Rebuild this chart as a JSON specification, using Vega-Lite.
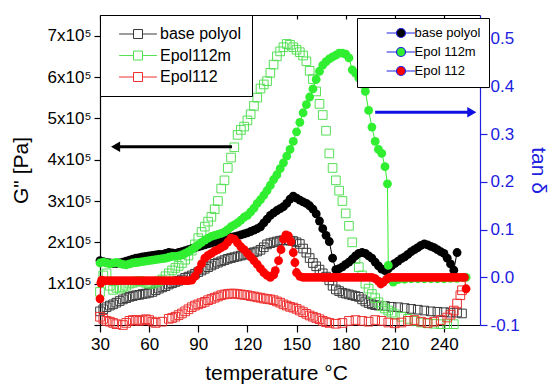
{
  "$schema": "https://vega.github.io/schema/vega-lite/v6.json",
  "width": 380,
  "height": 310,
  "autosize": "none",
  "padding": {"left": 100, "top": 15, "right": 70, "bottom": 65},
  "background": "white",
  "config": {
    "font": "Liberation Sans",
    "view": {"stroke": null},
    "axis": {"grid": false, "labelFont": "Liberation Sans, DejaVu Sans", "titleFont": "Liberation Sans", "labelFontSize": 17, "titleFontSize": 21, "titleFontWeight": "normal", "labelColor": "black", "titleColor": "black", "domainColor": "black", "tickColor": "black", "domainWidth": 1.2, "tickWidth": 1.2, "labelFlush": false},
    "legend": {"labelFont": "Liberation Sans"}
  },
  "datasets": {
    "gpp": [
      {"T":30,"G":33000,"s":"base polyol"},{"T":32,"G":38000,"s":"base polyol"},{"T":34,"G":43000,"s":"base polyol"},{"T":36,"G":47000,"s":"base polyol"},{"T":38,"G":50000,"s":"base polyol"},{"T":40,"G":54000,"s":"base polyol"},{"T":42,"G":58000,"s":"base polyol"},{"T":44,"G":62000,"s":"base polyol"},{"T":46,"G":65000,"s":"base polyol"},{"T":48,"G":68000,"s":"base polyol"},{"T":50,"G":70000,"s":"base polyol"},{"T":52,"G":72000,"s":"base polyol"},{"T":54,"G":73000,"s":"base polyol"},{"T":56,"G":75000,"s":"base polyol"},{"T":58,"G":76000,"s":"base polyol"},{"T":60,"G":78000,"s":"base polyol"},{"T":62,"G":80000,"s":"base polyol"},{"T":64,"G":84000,"s":"base polyol"},{"T":66,"G":88000,"s":"base polyol"},{"T":68,"G":91000,"s":"base polyol"},{"T":70,"G":94000,"s":"base polyol"},{"T":72,"G":98000,"s":"base polyol"},{"T":74,"G":101000,"s":"base polyol"},{"T":76,"G":104000,"s":"base polyol"},{"T":78,"G":107000,"s":"base polyol"},{"T":80,"G":110000,"s":"base polyol"},{"T":82,"G":114000,"s":"base polyol"},{"T":84,"G":117000,"s":"base polyol"},{"T":86,"G":120000,"s":"base polyol"},{"T":88,"G":124000,"s":"base polyol"},{"T":90,"G":128000,"s":"base polyol"},{"T":92,"G":132000,"s":"base polyol"},{"T":94,"G":136000,"s":"base polyol"},{"T":96,"G":140000,"s":"base polyol"},{"T":98,"G":144000,"s":"base polyol"},{"T":100,"G":148000,"s":"base polyol"},{"T":102,"G":151000,"s":"base polyol"},{"T":104,"G":154000,"s":"base polyol"},{"T":106,"G":157000,"s":"base polyol"},{"T":108,"G":160000,"s":"base polyol"},{"T":110,"G":162000,"s":"base polyol"},{"T":112,"G":164000,"s":"base polyol"},{"T":114,"G":166000,"s":"base polyol"},{"T":116,"G":168000,"s":"base polyol"},{"T":118,"G":170000,"s":"base polyol"},{"T":120,"G":172000,"s":"base polyol"},{"T":122,"G":174000,"s":"base polyol"},{"T":124,"G":176000,"s":"base polyol"},{"T":126,"G":178000,"s":"base polyol"},{"T":128,"G":182000,"s":"base polyol"},{"T":130,"G":188000,"s":"base polyol"},{"T":132,"G":195000,"s":"base polyol"},{"T":134,"G":198000,"s":"base polyol"},{"T":136,"G":200000,"s":"base polyol"},{"T":138,"G":202000,"s":"base polyol"},{"T":140,"G":204000,"s":"base polyol"},{"T":142,"G":205000,"s":"base polyol"},{"T":144,"G":205000,"s":"base polyol"},{"T":146,"G":204000,"s":"base polyol"},{"T":148,"G":203000,"s":"base polyol"},{"T":150,"G":200000,"s":"base polyol"},{"T":152,"G":196000,"s":"base polyol"},{"T":154,"G":185000,"s":"base polyol"},{"T":156,"G":175000,"s":"base polyol"},{"T":158,"G":162000,"s":"base polyol"},{"T":160,"G":150000,"s":"base polyol"},{"T":162,"G":142000,"s":"base polyol"},{"T":164,"G":134000,"s":"base polyol"},{"T":166,"G":125000,"s":"base polyol"},{"T":168,"G":117000,"s":"base polyol"},{"T":170,"G":108000,"s":"base polyol"},{"T":172,"G":95000,"s":"base polyol"},{"T":174,"G":86000,"s":"base polyol"},{"T":176,"G":82000,"s":"base polyol"},{"T":178,"G":78000,"s":"base polyol"},{"T":180,"G":76000,"s":"base polyol"},{"T":182,"G":74000,"s":"base polyol"},{"T":184,"G":72000,"s":"base polyol"},{"T":186,"G":70000,"s":"base polyol"},{"T":188,"G":68000,"s":"base polyol"},{"T":190,"G":62000,"s":"base polyol"},{"T":192,"G":57000,"s":"base polyol"},{"T":194,"G":53000,"s":"base polyol"},{"T":196,"G":50000,"s":"base polyol"},{"T":198,"G":48000,"s":"base polyol"},{"T":200,"G":47000,"s":"base polyol"},{"T":204,"G":46000,"s":"base polyol"},{"T":208,"G":44000,"s":"base polyol"},{"T":212,"G":43000,"s":"base polyol"},{"T":216,"G":41000,"s":"base polyol"},{"T":220,"G":39000,"s":"base polyol"},{"T":224,"G":37000,"s":"base polyol"},{"T":228,"G":35000,"s":"base polyol"},{"T":232,"G":33000,"s":"base polyol"},{"T":236,"G":32000,"s":"base polyol"},{"T":240,"G":31000,"s":"base polyol"},{"T":244,"G":30000,"s":"base polyol"},{"T":248,"G":30000,"s":"base polyol"},{"T":251,"G":28000,"s":"base polyol"},
      {"T":30,"G":80000,"s":"Epol112m"},{"T":32,"G":120000,"s":"Epol112m"},{"T":34,"G":125000,"s":"Epol112m"},{"T":36,"G":95000,"s":"Epol112m"},{"T":38,"G":85000,"s":"Epol112m"},{"T":40,"G":90000,"s":"Epol112m"},{"T":42,"G":88000,"s":"Epol112m"},{"T":44,"G":92000,"s":"Epol112m"},{"T":46,"G":95000,"s":"Epol112m"},{"T":48,"G":100000,"s":"Epol112m"},{"T":50,"G":102000,"s":"Epol112m"},{"T":52,"G":105000,"s":"Epol112m"},{"T":54,"G":106000,"s":"Epol112m"},{"T":56,"G":105000,"s":"Epol112m"},{"T":58,"G":102000,"s":"Epol112m"},{"T":60,"G":100000,"s":"Epol112m"},{"T":62,"G":100000,"s":"Epol112m"},{"T":64,"G":103000,"s":"Epol112m"},{"T":66,"G":106000,"s":"Epol112m"},{"T":68,"G":110000,"s":"Epol112m"},{"T":70,"G":118000,"s":"Epol112m"},{"T":72,"G":125000,"s":"Epol112m"},{"T":74,"G":132000,"s":"Epol112m"},{"T":76,"G":138000,"s":"Epol112m"},{"T":78,"G":143000,"s":"Epol112m"},{"T":80,"G":150000,"s":"Epol112m"},{"T":82,"G":158000,"s":"Epol112m"},{"T":84,"G":168000,"s":"Epol112m"},{"T":86,"G":180000,"s":"Epol112m"},{"T":88,"G":195000,"s":"Epol112m"},{"T":90,"G":210000,"s":"Epol112m"},{"T":92,"G":225000,"s":"Epol112m"},{"T":94,"G":238000,"s":"Epol112m"},{"T":96,"G":250000,"s":"Epol112m"},{"T":98,"G":262000,"s":"Epol112m"},{"T":100,"G":280000,"s":"Epol112m"},{"T":102,"G":300000,"s":"Epol112m"},{"T":104,"G":330000,"s":"Epol112m"},{"T":106,"G":350000,"s":"Epol112m"},{"T":108,"G":380000,"s":"Epol112m"},{"T":110,"G":405000,"s":"Epol112m"},{"T":112,"G":430000,"s":"Epol112m"},{"T":114,"G":460000,"s":"Epol112m"},{"T":116,"G":472000,"s":"Epol112m"},{"T":118,"G":480000,"s":"Epol112m"},{"T":120,"G":495000,"s":"Epol112m"},{"T":122,"G":510000,"s":"Epol112m"},{"T":124,"G":530000,"s":"Epol112m"},{"T":126,"G":550000,"s":"Epol112m"},{"T":128,"G":572000,"s":"Epol112m"},{"T":130,"G":582000,"s":"Epol112m"},{"T":132,"G":590000,"s":"Epol112m"},{"T":134,"G":610000,"s":"Epol112m"},{"T":136,"G":630000,"s":"Epol112m"},{"T":138,"G":650000,"s":"Epol112m"},{"T":140,"G":662000,"s":"Epol112m"},{"T":142,"G":672000,"s":"Epol112m"},{"T":144,"G":680000,"s":"Epol112m"},{"T":146,"G":678000,"s":"Epol112m"},{"T":148,"G":672000,"s":"Epol112m"},{"T":150,"G":666000,"s":"Epol112m"},{"T":152,"G":660000,"s":"Epol112m"},{"T":154,"G":652000,"s":"Epol112m"},{"T":156,"G":638000,"s":"Epol112m"},{"T":158,"G":615000,"s":"Epol112m"},{"T":160,"G":595000,"s":"Epol112m"},{"T":162,"G":565000,"s":"Epol112m"},{"T":164,"G":535000,"s":"Epol112m"},{"T":166,"G":508000,"s":"Epol112m"},{"T":168,"G":470000,"s":"Epol112m"},{"T":170,"G":415000,"s":"Epol112m"},{"T":172,"G":380000,"s":"Epol112m"},{"T":174,"G":350000,"s":"Epol112m"},{"T":176,"G":325000,"s":"Epol112m"},{"T":178,"G":300000,"s":"Epol112m"},{"T":180,"G":270000,"s":"Epol112m"},{"T":182,"G":240000,"s":"Epol112m"},{"T":184,"G":200000,"s":"Epol112m"},{"T":186,"G":160000,"s":"Epol112m"},{"T":188,"G":140000,"s":"Epol112m"},{"T":190,"G":120000,"s":"Epol112m"},{"T":192,"G":100000,"s":"Epol112m"},{"T":194,"G":88000,"s":"Epol112m"},{"T":196,"G":75000,"s":"Epol112m"},{"T":198,"G":65000,"s":"Epol112m"},{"T":200,"G":55000,"s":"Epol112m"},{"T":202,"G":46000,"s":"Epol112m"},{"T":204,"G":40000,"s":"Epol112m"},{"T":206,"G":35000,"s":"Epol112m"},{"T":208,"G":30000,"s":"Epol112m"},{"T":210,"G":26000,"s":"Epol112m"},{"T":214,"G":20000,"s":"Epol112m"},{"T":218,"G":15000,"s":"Epol112m"},{"T":222,"G":10000,"s":"Epol112m"},{"T":226,"G":6000,"s":"Epol112m"},{"T":230,"G":4000,"s":"Epol112m"},{"T":234,"G":3000,"s":"Epol112m"},{"T":238,"G":2000,"s":"Epol112m"},{"T":242,"G":2000,"s":"Epol112m"},{"T":246,"G":2000,"s":"Epol112m"},
      {"T":30,"G":20000,"s":"Epol112"},{"T":32,"G":15000,"s":"Epol112"},{"T":34,"G":10000,"s":"Epol112"},{"T":36,"G":8000,"s":"Epol112"},{"T":38,"G":5000,"s":"Epol112"},{"T":40,"G":2000,"s":"Epol112"},{"T":44,"G":0,"s":"Epol112"},{"T":46,"G":5000,"s":"Epol112"},{"T":48,"G":10000,"s":"Epol112"},{"T":50,"G":12000,"s":"Epol112"},{"T":52,"G":12000,"s":"Epol112"},{"T":54,"G":10000,"s":"Epol112"},{"T":56,"G":12000,"s":"Epol112"},{"T":58,"G":14000,"s":"Epol112"},{"T":60,"G":12000,"s":"Epol112"},{"T":62,"G":8000,"s":"Epol112"},{"T":64,"G":5000,"s":"Epol112"},{"T":68,"G":8000,"s":"Epol112"},{"T":72,"G":15000,"s":"Epol112"},{"T":74,"G":17000,"s":"Epol112"},{"T":76,"G":20000,"s":"Epol112"},{"T":78,"G":24000,"s":"Epol112"},{"T":80,"G":28000,"s":"Epol112"},{"T":82,"G":33000,"s":"Epol112"},{"T":84,"G":38000,"s":"Epol112"},{"T":86,"G":43000,"s":"Epol112"},{"T":88,"G":47000,"s":"Epol112"},{"T":90,"G":50000,"s":"Epol112"},{"T":92,"G":53000,"s":"Epol112"},{"T":94,"G":56000,"s":"Epol112"},{"T":96,"G":60000,"s":"Epol112"},{"T":98,"G":63000,"s":"Epol112"},{"T":100,"G":66000,"s":"Epol112"},{"T":102,"G":69000,"s":"Epol112"},{"T":104,"G":72000,"s":"Epol112"},{"T":106,"G":74000,"s":"Epol112"},{"T":108,"G":75000,"s":"Epol112"},{"T":110,"G":76000,"s":"Epol112"},{"T":112,"G":76000,"s":"Epol112"},{"T":114,"G":75000,"s":"Epol112"},{"T":116,"G":74000,"s":"Epol112"},{"T":118,"G":73000,"s":"Epol112"},{"T":120,"G":72000,"s":"Epol112"},{"T":122,"G":70000,"s":"Epol112"},{"T":124,"G":69000,"s":"Epol112"},{"T":126,"G":67000,"s":"Epol112"},{"T":128,"G":66000,"s":"Epol112"},{"T":130,"G":64000,"s":"Epol112"},{"T":132,"G":63000,"s":"Epol112"},{"T":134,"G":62000,"s":"Epol112"},{"T":136,"G":60000,"s":"Epol112"},{"T":138,"G":57000,"s":"Epol112"},{"T":140,"G":54000,"s":"Epol112"},{"T":142,"G":50000,"s":"Epol112"},{"T":144,"G":47000,"s":"Epol112"},{"T":146,"G":44000,"s":"Epol112"},{"T":148,"G":42000,"s":"Epol112"},{"T":150,"G":39000,"s":"Epol112"},{"T":152,"G":35000,"s":"Epol112"},{"T":154,"G":31000,"s":"Epol112"},{"T":156,"G":27000,"s":"Epol112"},{"T":158,"G":23000,"s":"Epol112"},{"T":160,"G":20000,"s":"Epol112"},{"T":162,"G":17000,"s":"Epol112"},{"T":164,"G":14000,"s":"Epol112"},{"T":166,"G":10000,"s":"Epol112"},{"T":168,"G":7000,"s":"Epol112"},{"T":170,"G":5000,"s":"Epol112"},{"T":174,"G":3000,"s":"Epol112"},{"T":178,"G":5000,"s":"Epol112"},{"T":182,"G":10000,"s":"Epol112"},{"T":186,"G":12000,"s":"Epol112"},{"T":190,"G":10000,"s":"Epol112"},{"T":194,"G":8000,"s":"Epol112"},{"T":198,"G":12000,"s":"Epol112"},{"T":202,"G":10000,"s":"Epol112"},{"T":206,"G":6000,"s":"Epol112"},{"T":210,"G":4000,"s":"Epol112"},{"T":214,"G":6000,"s":"Epol112"},{"T":218,"G":10000,"s":"Epol112"},{"T":222,"G":12000,"s":"Epol112"},{"T":226,"G":8000,"s":"Epol112"},{"T":230,"G":5000,"s":"Epol112"},{"T":234,"G":8000,"s":"Epol112"},{"T":238,"G":12000,"s":"Epol112"},{"T":242,"G":18000,"s":"Epol112"},{"T":244,"G":25000,"s":"Epol112"},{"T":246,"G":35000,"s":"Epol112"},{"T":248,"G":52000,"s":"Epol112"},{"T":250,"G":72000,"s":"Epol112"},{"T":251,"G":84000,"s":"Epol112"}
    ],
    "tan": [
      {"T":30,"tan":0.035,"s":"base polyol"},{"T":32,"tan":0.033,"s":"base polyol"},{"T":34,"tan":0.031,"s":"base polyol"},{"T":36,"tan":0.03,"s":"base polyol"},{"T":38,"tan":0.029,"s":"base polyol"},{"T":40,"tan":0.029,"s":"base polyol"},{"T":42,"tan":0.03,"s":"base polyol"},{"T":44,"tan":0.032,"s":"base polyol"},{"T":46,"tan":0.034,"s":"base polyol"},{"T":48,"tan":0.036,"s":"base polyol"},{"T":50,"tan":0.038,"s":"base polyol"},{"T":52,"tan":0.04,"s":"base polyol"},{"T":54,"tan":0.041,"s":"base polyol"},{"T":56,"tan":0.043,"s":"base polyol"},{"T":58,"tan":0.044,"s":"base polyol"},{"T":60,"tan":0.045,"s":"base polyol"},{"T":62,"tan":0.046,"s":"base polyol"},{"T":64,"tan":0.047,"s":"base polyol"},{"T":66,"tan":0.048,"s":"base polyol"},{"T":68,"tan":0.048,"s":"base polyol"},{"T":70,"tan":0.05,"s":"base polyol"},{"T":72,"tan":0.052,"s":"base polyol"},{"T":74,"tan":0.051,"s":"base polyol"},{"T":76,"tan":0.05,"s":"base polyol"},{"T":78,"tan":0.052,"s":"base polyol"},{"T":80,"tan":0.054,"s":"base polyol"},{"T":82,"tan":0.056,"s":"base polyol"},{"T":84,"tan":0.058,"s":"base polyol"},{"T":86,"tan":0.06,"s":"base polyol"},{"T":88,"tan":0.062,"s":"base polyol"},{"T":90,"tan":0.064,"s":"base polyol"},{"T":92,"tan":0.066,"s":"base polyol"},{"T":94,"tan":0.068,"s":"base polyol"},{"T":96,"tan":0.07,"s":"base polyol"},{"T":98,"tan":0.072,"s":"base polyol"},{"T":100,"tan":0.074,"s":"base polyol"},{"T":102,"tan":0.076,"s":"base polyol"},{"T":104,"tan":0.078,"s":"base polyol"},{"T":106,"tan":0.08,"s":"base polyol"},{"T":108,"tan":0.082,"s":"base polyol"},{"T":110,"tan":0.084,"s":"base polyol"},{"T":112,"tan":0.085,"s":"base polyol"},{"T":114,"tan":0.087,"s":"base polyol"},{"T":116,"tan":0.089,"s":"base polyol"},{"T":118,"tan":0.091,"s":"base polyol"},{"T":120,"tan":0.093,"s":"base polyol"},{"T":122,"tan":0.096,"s":"base polyol"},{"T":124,"tan":0.099,"s":"base polyol"},{"T":126,"tan":0.102,"s":"base polyol"},{"T":128,"tan":0.106,"s":"base polyol"},{"T":130,"tan":0.114,"s":"base polyol"},{"T":132,"tan":0.122,"s":"base polyol"},{"T":134,"tan":0.13,"s":"base polyol"},{"T":136,"tan":0.135,"s":"base polyol"},{"T":138,"tan":0.14,"s":"base polyol"},{"T":140,"tan":0.144,"s":"base polyol"},{"T":142,"tan":0.148,"s":"base polyol"},{"T":144,"tan":0.155,"s":"base polyol"},{"T":146,"tan":0.164,"s":"base polyol"},{"T":148,"tan":0.17,"s":"base polyol"},{"T":150,"tan":0.166,"s":"base polyol"},{"T":152,"tan":0.162,"s":"base polyol"},{"T":154,"tan":0.158,"s":"base polyol"},{"T":156,"tan":0.155,"s":"base polyol"},{"T":158,"tan":0.15,"s":"base polyol"},{"T":160,"tan":0.143,"s":"base polyol"},{"T":162,"tan":0.133,"s":"base polyol"},{"T":164,"tan":0.118,"s":"base polyol"},{"T":166,"tan":0.102,"s":"base polyol"},{"T":168,"tan":0.088,"s":"base polyol"},{"T":170,"tan":0.075,"s":"base polyol"},{"T":172,"tan":0.04,"s":"base polyol"},{"T":174,"tan":0.016,"s":"base polyol"},{"T":176,"tan":0.018,"s":"base polyol"},{"T":178,"tan":0.022,"s":"base polyol"},{"T":180,"tan":0.027,"s":"base polyol"},{"T":182,"tan":0.032,"s":"base polyol"},{"T":184,"tan":0.038,"s":"base polyol"},{"T":186,"tan":0.045,"s":"base polyol"},{"T":188,"tan":0.05,"s":"base polyol"},{"T":190,"tan":0.052,"s":"base polyol"},{"T":192,"tan":0.05,"s":"base polyol"},{"T":194,"tan":0.045,"s":"base polyol"},{"T":196,"tan":0.04,"s":"base polyol"},{"T":198,"tan":0.032,"s":"base polyol"},{"T":200,"tan":0.024,"s":"base polyol"},{"T":202,"tan":0.017,"s":"base polyol"},{"T":204,"tan":0.014,"s":"base polyol"},{"T":206,"tan":0.018,"s":"base polyol"},{"T":208,"tan":0.024,"s":"base polyol"},{"T":210,"tan":0.029,"s":"base polyol"},{"T":212,"tan":0.034,"s":"base polyol"},{"T":214,"tan":0.039,"s":"base polyol"},{"T":216,"tan":0.043,"s":"base polyol"},{"T":218,"tan":0.048,"s":"base polyol"},{"T":220,"tan":0.054,"s":"base polyol"},{"T":222,"tan":0.058,"s":"base polyol"},{"T":224,"tan":0.062,"s":"base polyol"},{"T":226,"tan":0.067,"s":"base polyol"},{"T":228,"tan":0.07,"s":"base polyol"},{"T":230,"tan":0.068,"s":"base polyol"},{"T":232,"tan":0.065,"s":"base polyol"},{"T":234,"tan":0.062,"s":"base polyol"},{"T":236,"tan":0.058,"s":"base polyol"},{"T":238,"tan":0.054,"s":"base polyol"},{"T":240,"tan":0.05,"s":"base polyol"},{"T":242,"tan":0.04,"s":"base polyol"},{"T":244,"tan":0.028,"s":"base polyol"},{"T":246,"tan":0.015,"s":"base polyol"},{"T":248,"tan":0.052,"s":"base polyol"},
      {"T":30,"tan":0.03,"s":"Epol 112m"},{"T":32,"tan":0.032,"s":"Epol 112m"},{"T":34,"tan":0.03,"s":"Epol 112m"},{"T":36,"tan":0.028,"s":"Epol 112m"},{"T":38,"tan":0.03,"s":"Epol 112m"},{"T":40,"tan":0.031,"s":"Epol 112m"},{"T":42,"tan":0.029,"s":"Epol 112m"},{"T":44,"tan":0.027,"s":"Epol 112m"},{"T":46,"tan":0.026,"s":"Epol 112m"},{"T":48,"tan":0.028,"s":"Epol 112m"},{"T":50,"tan":0.03,"s":"Epol 112m"},{"T":52,"tan":0.031,"s":"Epol 112m"},{"T":54,"tan":0.032,"s":"Epol 112m"},{"T":56,"tan":0.033,"s":"Epol 112m"},{"T":58,"tan":0.034,"s":"Epol 112m"},{"T":60,"tan":0.035,"s":"Epol 112m"},{"T":62,"tan":0.036,"s":"Epol 112m"},{"T":64,"tan":0.037,"s":"Epol 112m"},{"T":66,"tan":0.038,"s":"Epol 112m"},{"T":68,"tan":0.039,"s":"Epol 112m"},{"T":70,"tan":0.04,"s":"Epol 112m"},{"T":72,"tan":0.042,"s":"Epol 112m"},{"T":74,"tan":0.044,"s":"Epol 112m"},{"T":76,"tan":0.044,"s":"Epol 112m"},{"T":78,"tan":0.045,"s":"Epol 112m"},{"T":80,"tan":0.047,"s":"Epol 112m"},{"T":82,"tan":0.05,"s":"Epol 112m"},{"T":84,"tan":0.054,"s":"Epol 112m"},{"T":86,"tan":0.058,"s":"Epol 112m"},{"T":88,"tan":0.063,"s":"Epol 112m"},{"T":90,"tan":0.068,"s":"Epol 112m"},{"T":92,"tan":0.073,"s":"Epol 112m"},{"T":94,"tan":0.078,"s":"Epol 112m"},{"T":96,"tan":0.082,"s":"Epol 112m"},{"T":98,"tan":0.086,"s":"Epol 112m"},{"T":100,"tan":0.088,"s":"Epol 112m"},{"T":102,"tan":0.09,"s":"Epol 112m"},{"T":104,"tan":0.092,"s":"Epol 112m"},{"T":106,"tan":0.095,"s":"Epol 112m"},{"T":108,"tan":0.1,"s":"Epol 112m"},{"T":110,"tan":0.106,"s":"Epol 112m"},{"T":112,"tan":0.11,"s":"Epol 112m"},{"T":114,"tan":0.114,"s":"Epol 112m"},{"T":116,"tan":0.12,"s":"Epol 112m"},{"T":118,"tan":0.126,"s":"Epol 112m"},{"T":120,"tan":0.13,"s":"Epol 112m"},{"T":122,"tan":0.137,"s":"Epol 112m"},{"T":124,"tan":0.145,"s":"Epol 112m"},{"T":126,"tan":0.155,"s":"Epol 112m"},{"T":128,"tan":0.163,"s":"Epol 112m"},{"T":130,"tan":0.172,"s":"Epol 112m"},{"T":132,"tan":0.182,"s":"Epol 112m"},{"T":134,"tan":0.193,"s":"Epol 112m"},{"T":136,"tan":0.205,"s":"Epol 112m"},{"T":138,"tan":0.215,"s":"Epol 112m"},{"T":140,"tan":0.228,"s":"Epol 112m"},{"T":142,"tan":0.24,"s":"Epol 112m"},{"T":144,"tan":0.254,"s":"Epol 112m"},{"T":146,"tan":0.268,"s":"Epol 112m"},{"T":148,"tan":0.285,"s":"Epol 112m"},{"T":150,"tan":0.305,"s":"Epol 112m"},{"T":152,"tan":0.325,"s":"Epol 112m"},{"T":154,"tan":0.345,"s":"Epol 112m"},{"T":156,"tan":0.362,"s":"Epol 112m"},{"T":158,"tan":0.378,"s":"Epol 112m"},{"T":160,"tan":0.395,"s":"Epol 112m"},{"T":162,"tan":0.415,"s":"Epol 112m"},{"T":164,"tan":0.432,"s":"Epol 112m"},{"T":166,"tan":0.445,"s":"Epol 112m"},{"T":168,"tan":0.452,"s":"Epol 112m"},{"T":170,"tan":0.458,"s":"Epol 112m"},{"T":172,"tan":0.462,"s":"Epol 112m"},{"T":174,"tan":0.466,"s":"Epol 112m"},{"T":176,"tan":0.47,"s":"Epol 112m"},{"T":178,"tan":0.47,"s":"Epol 112m"},{"T":180,"tan":0.468,"s":"Epol 112m"},{"T":182,"tan":0.46,"s":"Epol 112m"},{"T":184,"tan":0.435,"s":"Epol 112m"},{"T":186,"tan":0.428,"s":"Epol 112m"},{"T":188,"tan":0.418,"s":"Epol 112m"},{"T":190,"tan":0.405,"s":"Epol 112m"},{"T":192,"tan":0.39,"s":"Epol 112m"},{"T":194,"tan":0.35,"s":"Epol 112m"},{"T":196,"tan":0.315,"s":"Epol 112m"},{"T":198,"tan":0.285,"s":"Epol 112m"},{"T":200,"tan":0.268,"s":"Epol 112m"},{"T":202,"tan":0.26,"s":"Epol 112m"},{"T":204,"tan":0.232,"s":"Epol 112m"},{"T":205.5,"tan":0.196,"s":"Epol 112m"},{"T":206,"tan":0.025,"s":"Epol 112m"},{"T":209,"tan":-0.01,"s":"Epol 112m"},{"T":212,"tan":-0.005,"s":"Epol 112m"},{"T":216,"tan":-0.004,"s":"Epol 112m"},{"T":220,"tan":-0.003,"s":"Epol 112m"},{"T":224,"tan":-0.003,"s":"Epol 112m"},{"T":228,"tan":-0.003,"s":"Epol 112m"},{"T":232,"tan":-0.003,"s":"Epol 112m"},{"T":236,"tan":-0.003,"s":"Epol 112m"},{"T":240,"tan":-0.003,"s":"Epol 112m"},{"T":244,"tan":-0.002,"s":"Epol 112m"},{"T":248,"tan":-0.002,"s":"Epol 112m"},{"T":252,"tan":0.0,"s":"Epol 112m"},{"T":253.5,"tan":0.0,"s":"Epol 112m"},
      {"T":30,"tan":-0.045,"s":"Epol 112"},{"T":30.5,"tan":-0.012,"s":"Epol 112"},{"T":31,"tan":-0.006,"s":"Epol 112"},{"T":32,"tan":-0.007,"s":"Epol 112"},{"T":34,"tan":-0.007,"s":"Epol 112"},{"T":36,"tan":-0.007,"s":"Epol 112"},{"T":38,"tan":-0.007,"s":"Epol 112"},{"T":40,"tan":-0.007,"s":"Epol 112"},{"T":42,"tan":-0.007,"s":"Epol 112"},{"T":44,"tan":-0.007,"s":"Epol 112"},{"T":46,"tan":-0.007,"s":"Epol 112"},{"T":48,"tan":-0.007,"s":"Epol 112"},{"T":50,"tan":-0.007,"s":"Epol 112"},{"T":52,"tan":-0.007,"s":"Epol 112"},{"T":54,"tan":-0.007,"s":"Epol 112"},{"T":56,"tan":-0.007,"s":"Epol 112"},{"T":58,"tan":-0.007,"s":"Epol 112"},{"T":60,"tan":-0.007,"s":"Epol 112"},{"T":62,"tan":-0.007,"s":"Epol 112"},{"T":64,"tan":-0.007,"s":"Epol 112"},{"T":66,"tan":-0.007,"s":"Epol 112"},{"T":68,"tan":-0.007,"s":"Epol 112"},{"T":70,"tan":-0.007,"s":"Epol 112"},{"T":72,"tan":-0.007,"s":"Epol 112"},{"T":74,"tan":-0.007,"s":"Epol 112"},{"T":76,"tan":-0.007,"s":"Epol 112"},{"T":78,"tan":-0.007,"s":"Epol 112"},{"T":80,"tan":-0.007,"s":"Epol 112"},{"T":82,"tan":-0.007,"s":"Epol 112"},{"T":84,"tan":-0.007,"s":"Epol 112"},{"T":86,"tan":-0.006,"s":"Epol 112"},{"T":88,"tan":0.002,"s":"Epol 112"},{"T":90,"tan":0.015,"s":"Epol 112"},{"T":92,"tan":0.028,"s":"Epol 112"},{"T":94,"tan":0.04,"s":"Epol 112"},{"T":96,"tan":0.046,"s":"Epol 112"},{"T":98,"tan":0.05,"s":"Epol 112"},{"T":100,"tan":0.055,"s":"Epol 112"},{"T":102,"tan":0.058,"s":"Epol 112"},{"T":104,"tan":0.062,"s":"Epol 112"},{"T":106,"tan":0.066,"s":"Epol 112"},{"T":108,"tan":0.074,"s":"Epol 112"},{"T":110,"tan":0.082,"s":"Epol 112"},{"T":112,"tan":0.08,"s":"Epol 112"},{"T":114,"tan":0.072,"s":"Epol 112"},{"T":116,"tan":0.064,"s":"Epol 112"},{"T":118,"tan":0.058,"s":"Epol 112"},{"T":120,"tan":0.05,"s":"Epol 112"},{"T":122,"tan":0.043,"s":"Epol 112"},{"T":124,"tan":0.035,"s":"Epol 112"},{"T":126,"tan":0.027,"s":"Epol 112"},{"T":128,"tan":0.018,"s":"Epol 112"},{"T":130,"tan":0.01,"s":"Epol 112"},{"T":132,"tan":0.004,"s":"Epol 112"},{"T":134,"tan":0.0,"s":"Epol 112"},{"T":136,"tan":0.005,"s":"Epol 112"},{"T":137,"tan":0.014,"s":"Epol 112"},{"T":139,"tan":0.035,"s":"Epol 112"},{"T":140.5,"tan":0.058,"s":"Epol 112"},{"T":142,"tan":0.08,"s":"Epol 112"},{"T":143.5,"tan":0.089,"s":"Epol 112"},{"T":145,"tan":0.087,"s":"Epol 112"},{"T":146.5,"tan":0.075,"s":"Epol 112"},{"T":148,"tan":0.052,"s":"Epol 112"},{"T":149,"tan":0.031,"s":"Epol 112"},{"T":150,"tan":0.01,"s":"Epol 112"},{"T":152,"tan":0.002,"s":"Epol 112"},{"T":154,"tan":0.0,"s":"Epol 112"},{"T":156,"tan":0.0,"s":"Epol 112"},{"T":158,"tan":0.0,"s":"Epol 112"},{"T":160,"tan":0.0,"s":"Epol 112"},{"T":162,"tan":0.0,"s":"Epol 112"},{"T":164,"tan":0.0,"s":"Epol 112"},{"T":166,"tan":0.0,"s":"Epol 112"},{"T":168,"tan":0.0,"s":"Epol 112"},{"T":170,"tan":0.0,"s":"Epol 112"},{"T":172,"tan":0.0,"s":"Epol 112"},{"T":174,"tan":0.0,"s":"Epol 112"},{"T":176,"tan":0.0,"s":"Epol 112"},{"T":178,"tan":0.0,"s":"Epol 112"},{"T":180,"tan":0.0,"s":"Epol 112"},{"T":182,"tan":0.0,"s":"Epol 112"},{"T":184,"tan":0.0,"s":"Epol 112"},{"T":186,"tan":0.0,"s":"Epol 112"},{"T":188,"tan":0.0,"s":"Epol 112"},{"T":190,"tan":0.0,"s":"Epol 112"},{"T":192,"tan":0.0,"s":"Epol 112"},{"T":194,"tan":0.0,"s":"Epol 112"},{"T":196,"tan":0.0,"s":"Epol 112"},{"T":198,"tan":-0.003,"s":"Epol 112"},{"T":200,"tan":-0.008,"s":"Epol 112"},{"T":201.5,"tan":-0.014,"s":"Epol 112"},{"T":203,"tan":-0.01,"s":"Epol 112"},{"T":205,"tan":-0.004,"s":"Epol 112"},{"T":207,"tan":0.0,"s":"Epol 112"},{"T":209,"tan":0.0,"s":"Epol 112"},{"T":211,"tan":0.0,"s":"Epol 112"},{"T":213,"tan":0.0,"s":"Epol 112"},{"T":215,"tan":0.0,"s":"Epol 112"},{"T":217,"tan":0.0,"s":"Epol 112"},{"T":219,"tan":0.0,"s":"Epol 112"},{"T":221,"tan":0.0,"s":"Epol 112"},{"T":223,"tan":0.0,"s":"Epol 112"},{"T":225,"tan":0.0,"s":"Epol 112"},{"T":227,"tan":0.0,"s":"Epol 112"},{"T":229,"tan":0.0,"s":"Epol 112"},{"T":231,"tan":0.0,"s":"Epol 112"},{"T":233,"tan":0.0,"s":"Epol 112"},{"T":235,"tan":0.0,"s":"Epol 112"},{"T":237,"tan":0.0,"s":"Epol 112"},{"T":239,"tan":0.0,"s":"Epol 112"},{"T":241,"tan":0.0,"s":"Epol 112"},{"T":243,"tan":0.0,"s":"Epol 112"},{"T":245,"tan":0.0,"s":"Epol 112"},{"T":247,"tan":0.0,"s":"Epol 112"},{"T":249,"tan":0.0,"s":"Epol 112"},{"T":251,"tan":0.0,"s":"Epol 112"},{"T":252.5,"tan":0.0,"s":"Epol 112"},{"T":253.5,"tan":-0.024,"s":"Epol 112"}
    ],
    "arrowL": [{"T": 39.5, "T2": 110.6, "G": 431000}],
    "arrowR": [{"T": 257, "T2": 198, "tan": 0.346}]
  },
  "layer": [
    {
      "layer": [
        {
          "data": {"name": "gpp"},
          "mark": {"type": "point", "shape": "square", "filled": false, "size": 75, "strokeWidth": 1, "opacity": 1},
          "encoding": {
            "x": {"field": "T", "type": "quantitative", "scale": {"domain": [30, 262], "nice": false, "zero": false},
              "axis": {"orient": "bottom", "title": "temperature °C", "values": [30,45,60,75,90,105,120,135,150,165,180,195,210,225,240,255],
                "labelExpr": "datum.value % 30 === 0 ? datum.label : ''", "labelPadding": 4,
                "tickSize": {"condition": {"test": "datum.value % 30 === 0", "value": 7}, "value": 4},
                "titleX": 176, "titleY": 48, "titleBaseline": "middle", "titleAlign": "center"}},
            "y": {"field": "G", "type": "quantitative", "scale": {"domain": [0, 750000], "nice": false},
              "axis": {"orient": "left", "title": "G\" [Pa]", "values": [0,50000,100000,150000,200000,250000,300000,350000,400000,450000,500000,550000,600000,650000,700000],
                "labelExpr": "datum.value % 100000 === 0 && datum.value > 0 ? format(datum.value / 100000, 'd') + 'x10⁵' : ''",
                "tickSize": {"condition": {"test": "datum.value % 100000 === 0", "value": 6}, "value": 3}, "labelPadding": 3,
                "titlePadding": 16}},
            "color": {"field": "s", "type": "nominal", "sort": null,
              "scale": {"domain": ["base polyol", "Epol112m", "Epol112"], "range": ["#3a3a3a", "#55e055", "#ee3030"]},
              "legend": {"orient": "none", "legendX": 0, "legendY": 0, "title": null, "strokeColor": "black", "fillColor": "white",
                "padding": 11, "labelFontSize": 16, "labelColor": "black",
                "symbolType": "M-4.2,0H-1M1,0H4.2M-1,-1H1V1H-1Z", "symbolSize": 81, "symbolStrokeWidth": 1,
                "symbolOffset": 19, "labelOffset": 14, "rowPadding": 5.5}}
          }
        },
        {
          "data": {"name": "arrowL"},
          "mark": {"type": "rule", "color": "black", "strokeWidth": 3},
          "encoding": {"x": {"field": "T", "type": "quantitative", "scale": {"domain": [30, 262], "nice": false, "zero": false}}, "x2": {"field": "T2"}, "y": {"field": "G", "type": "quantitative", "scale": {"domain": [0, 750000], "nice": false}}}
        },
        {
          "data": {"name": "arrowL"},
          "mark": {"type": "point", "shape": "triangle-left", "filled": true, "color": "black", "size": 110, "opacity": 1},
          "encoding": {"x": {"field": "T", "type": "quantitative", "scale": {"domain": [30, 262], "nice": false, "zero": false}}, "y": {"field": "G", "type": "quantitative", "scale": {"domain": [0, 750000], "nice": false}}}
        }
      ]
    },
    {
      "layer": [
        {
          "data": {"name": "tan"},
          "mark": {"type": "line", "strokeWidth": 1},
          "encoding": {
            "x": {"field": "T", "type": "quantitative", "scale": {"domain": [30, 262], "nice": false, "zero": false}},
            "y": {"field": "tan", "type": "quantitative", "scale": {"domain": [-0.1, 0.55], "nice": false, "zero": false}},
            "stroke": {"field": "s", "type": "nominal", "scale": {"domain": ["base polyol", "Epol 112m", "Epol 112"], "range": ["#000000", "#30ee30", "#ff0000"]}, "legend": null}
          }
        },
        {
          "data": {"name": "tan"},
          "mark": {"type": "point", "shape": "circle", "filled": true, "size": 78, "opacity": 1},
          "encoding": {
            "x": {"field": "T", "type": "quantitative", "scale": {"domain": [30, 262], "nice": false, "zero": false},
              "axis": {"orient": "top", "title": null, "labels": false, "values": [30,45,60,75,90,105,120,135,150,165,180,195,210,225,240,255], "tickSize": -4}},
            "y": {"field": "tan", "type": "quantitative", "scale": {"domain": [-0.1, 0.55], "nice": false, "zero": false},
              "axis": {"orient": "right", "title": "tan δ", "titleColor": "#2020e0", "labelColor": "#2020e0", "domainColor": "#2020e0", "tickColor": "#2020e0",
                "values": [-0.1,-0.05,0,0.05,0.1,0.15,0.2,0.25,0.3,0.35,0.4,0.45,0.5],
                "labelExpr": "abs(datum.value * 10 - round(datum.value * 10)) < 0.01 ? replace(format(datum.value, '.1f'), '−', '-') : ''",
                "tickSize": {"condition": {"test": "abs(datum.value * 10 - round(datum.value * 10)) < 0.01", "value": 7}, "value": 4},
                "labelPadding": 3, "titlePadding": 8}},
            "color": {"field": "s", "type": "nominal", "sort": null,
              "scale": {"domain": ["base polyol", "Epol 112m", "Epol 112"], "range": ["#000000", "#30ee30", "#ff0000"]},
              "legend": {"orient": "none", "legendX": 257, "legendY": 3, "title": null, "strokeColor": "black", "fillColor": "white",
                "padding": 8.5, "labelFontSize": 13, "labelColor": "black",
                "symbolType": "M-3.2,0H-1M1,0H3.2M-1,0A1,1 0 1,1 1,0A1,1 0 1,1 -1,0Z", "symbolSize": 81,
                "symbolStrokeColor": "#2020e0", "symbolStrokeWidth": 1.2,
                "symbolOffset": 29, "labelOffset": 7, "rowPadding": 4}}
          }
        },
        {
          "data": {"name": "arrowR"},
          "mark": {"type": "rule", "color": "#1010e0", "strokeWidth": 3},
          "encoding": {"x": {"field": "T", "type": "quantitative", "scale": {"domain": [30, 262], "nice": false, "zero": false}}, "x2": {"field": "T2"}, "y": {"field": "tan", "type": "quantitative", "scale": {"domain": [-0.1, 0.55], "nice": false, "zero": false}}}
        },
        {
          "data": {"name": "arrowR"},
          "mark": {"type": "point", "shape": "triangle-right", "filled": true, "color": "#1010e0", "size": 110, "opacity": 1},
          "encoding": {"x": {"field": "T", "type": "quantitative", "scale": {"domain": [30, 262], "nice": false, "zero": false}}, "y": {"field": "tan", "type": "quantitative", "scale": {"domain": [-0.1, 0.55], "nice": false, "zero": false}}}
        }
      ]
    }
  ],
  "resolve": {"scale": {"y": "independent", "color": "independent"}, "axis": {"x": "independent"}}
}
